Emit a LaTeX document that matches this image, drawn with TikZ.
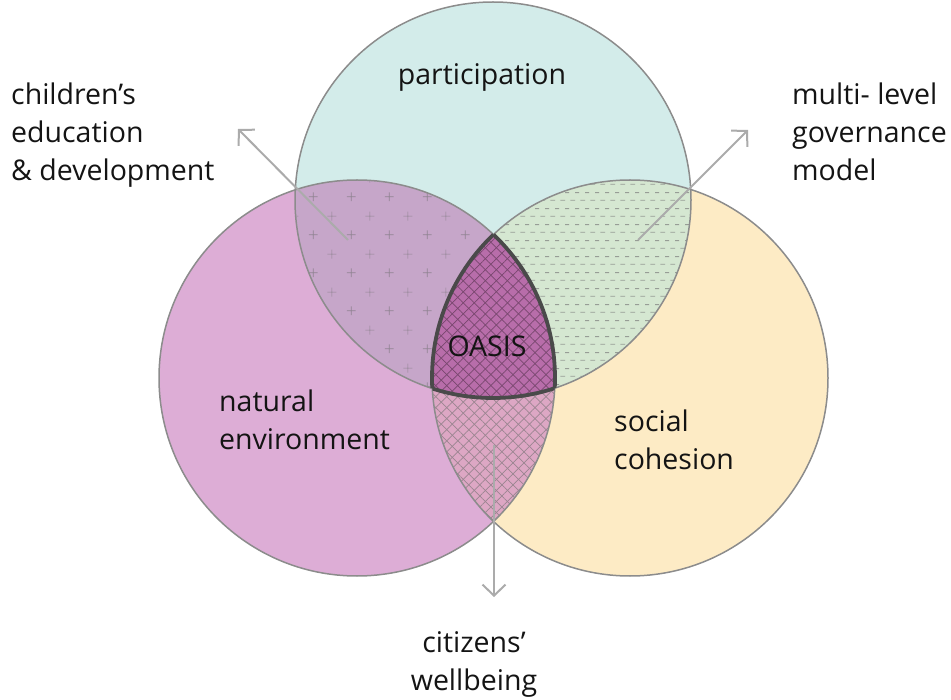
\documentclass[tikz,border=0pt]{standalone}
\usepackage{fontspec}
\setmainfont{Open Sans}
\usetikzlibrary{arrows.meta, patterns.meta, positioning}

\definecolor{partfill}{HTML}{D3ECEA}
\definecolor{envfill}{HTML}{DDADD6}
\definecolor{socfill}{HTML}{FDEBC5}
\definecolor{childfill}{HTML}{C6A6C9}
\definecolor{govfill}{HTML}{D5E7D1}
\definecolor{wellfill}{HTML}{DDA7C4}
\definecolor{oasisfill}{HTML}{B86DAA}
\definecolor{vennline}{HTML}{8C8C8C}
\definecolor{oasisline}{HTML}{4A4A4A}
\definecolor{ptrgray}{HTML}{ABABAB}

% staggered plus signs
\tikzdeclarepattern{
  name=plusgrid, type=uncolored,
  bottom left={(0pt,0pt)}, top right={(38pt,38pt)},
  tile size={(38pt,38pt)},
  code={
    \draw[line width=0.7pt] (5pt,9.5pt) -- (14pt,9.5pt) (9.5pt,5pt) -- (9.5pt,14pt);
    \draw[line width=0.7pt] (24pt,28.5pt) -- (33pt,28.5pt) (28.5pt,24pt) -- (28.5pt,33pt);
  }
}
% staggered short dashes
\tikzdeclarepattern{
  name=dashgrid, type=uncolored,
  bottom left={(0pt,0pt)}, top right={(10pt,16pt)},
  tile size={(10pt,16pt)},
  code={
    \draw[line width=0.9pt] (0.5pt,4pt) -- (5.5pt,4pt);
    \draw[line width=0.9pt] (5.5pt,12pt) -- (10pt,12pt);
  }
}

\begin{document}
\begin{tikzpicture}[x=1pt,y=-1pt,
  venn/.style={draw=vennline, line width=1.5pt},
  hatch/.style={pattern={Lines[angle=45,distance=7.8pt,line width=0.7pt]}},
  rhatch/.style={pattern={Lines[angle=-45,distance=7.8pt,line width=0.7pt]}},
  lbl/.style={font=\fontsize{28.5}{38}\selectfont, align=left, inner sep=0pt, text=black!92},
  ptr/.style={draw=ptrgray, line width=2pt, -{Straight Barb[length=11pt,width=23pt]}}]

\useasboundingbox (0,0) rectangle (951,700);
\def\rad{198pt}

\coordinate (T) at (493,200);
\coordinate (L) at (357,378);
\coordinate (R) at (630,378);

% base discs
\fill[partfill] (T) circle[radius=\rad];
\fill[envfill] (L) circle[radius=\rad];
\fill[socfill] (R) circle[radius=\rad];

% participation / environment
\begin{scope}
  \clip (T) circle[radius=\rad];
  \fill[childfill] (L) circle[radius=\rad];
  \fill[pattern=plusgrid, pattern color=childfill!55!black!75] (L) circle[radius=\rad];
\end{scope}
% participation / cohesion
\begin{scope}
  \clip (T) circle[radius=\rad];
  \fill[govfill] (R) circle[radius=\rad];
  \fill[pattern=dashgrid, pattern color=govfill!50!black!70] (R) circle[radius=\rad];
\end{scope}
% environment / cohesion
\begin{scope}
  \clip (L) circle[radius=\rad];
  \fill[wellfill] (R) circle[radius=\rad];
  \fill[hatch, pattern color=wellfill!55!black!75] (R) circle[radius=\rad];
  \fill[rhatch, pattern color=wellfill!55!black!75] (R) circle[radius=\rad];
\end{scope}
% all three
\begin{scope}
  \clip (T) circle[radius=\rad];
  \clip (L) circle[radius=\rad];
  \fill[oasisfill] (R) circle[radius=\rad];
  \fill[hatch, pattern color=oasisfill!65!black] (R) circle[radius=\rad];
  \fill[rhatch, pattern color=oasisfill!65!black] (R) circle[radius=\rad];
\end{scope}

\draw[venn] (T) circle[radius=\rad];
\draw[venn] (L) circle[radius=\rad];
\draw[venn] (R) circle[radius=\rad];

% darker rim round the centre
\begin{scope}
  \clip (T) circle[radius=\rad]; \clip (L) circle[radius=\rad];
  \draw[oasisline, line width=3.8pt] (R) circle[radius=\rad];
\end{scope}
\begin{scope}
  \clip (T) circle[radius=\rad]; \clip (R) circle[radius=\rad];
  \draw[oasisline, line width=3.8pt] (L) circle[radius=\rad];
\end{scope}
\begin{scope}
  \clip (L) circle[radius=\rad]; \clip (R) circle[radius=\rad];
  \draw[oasisline, line width=3.8pt] (T) circle[radius=\rad];
\end{scope}

% pointers
\coordinate (childfrom) at (348,240);
\coordinate (childto) at (238,129);
\coordinate (govfrom) at (638,240);
\coordinate (govto) at (748,130);
\coordinate (wellfrom) at (494,445);
\coordinate (wellto) at (494,597);
\draw[ptr] (childfrom) -- (childto);
\draw[ptr] (govfrom) -- (govto);
\draw[ptr] (wellfrom) -- (wellto);

% labels (base = last line)
\node[lbl, anchor=base] (part) at (482,85) {participation};
\node[lbl, anchor=base west] (env) at (219,450) {natural\\environment};
\node[lbl, anchor=base west] (soc) at (614,470) {social\\cohesion};
\node[lbl, anchor=base] (oasis) at (487,357) {OASIS};
\node[lbl, anchor=base west] (child) at (11,181) {children’s\\education\\\& development};
\node[lbl, anchor=base west] (gov) at (792,181) {multi- level\\governance\\model};
\node[lbl, align=center, anchor=base] (well) at (474,690) {citizens’\\wellbeing};
\end{tikzpicture}
\end{document}
